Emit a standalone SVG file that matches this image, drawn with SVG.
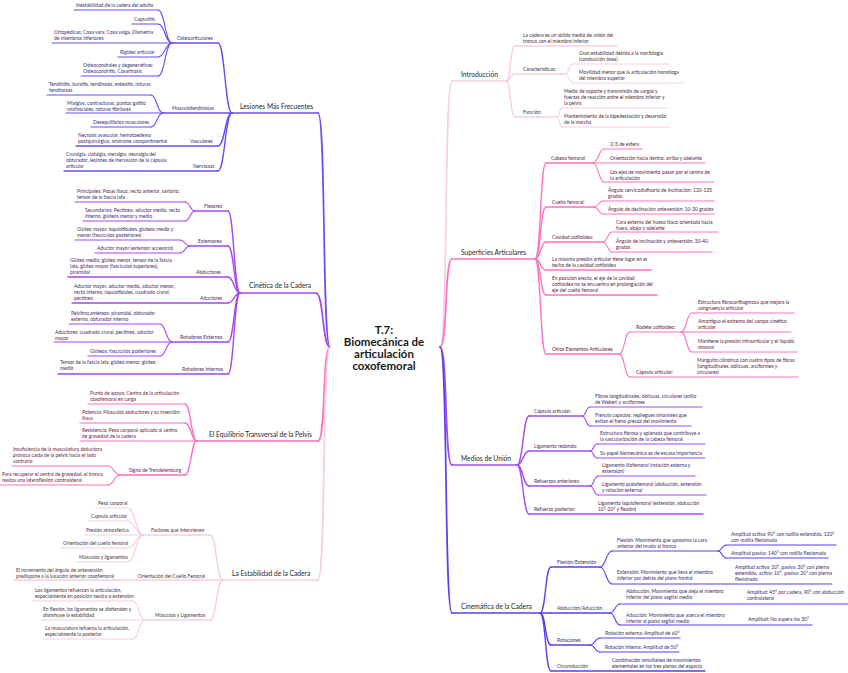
<svg xmlns="http://www.w3.org/2000/svg" width="848" height="673" viewBox="0 0 848 673">
<style>
text{font-family:Lato,"Open Sans","Liberation Sans",sans-serif}
.t{font-size:4.95px}
.m{font-size:6.7px;fill:#1f1f2a}
.ttl{font-size:11.5px;font-weight:bold;fill:#1a1a1a;text-anchor:middle}
path,line{fill:none;stroke-linecap:round}
.w3{stroke-width:1.7}.w2{stroke-width:1.4}.w1{stroke-width:1.1}
.kL{stroke:#6a4cf2}.kC{stroke:#a646ee}.kE{stroke:#ff6fbf}.kS{stroke:#f5cde4}
.kI{stroke:#f5d0e4}.kP{stroke:#ff72c0}.kM{stroke:#a24cf0}.kK{stroke:#5c40ee}
.fL{fill:#3b2f70}.fC{fill:#4a2a66}.fE{fill:#6e2348}.fS{fill:#4b3440}
.fI{fill:#4b3040}.fP{fill:#5a2346}.fM{fill:#472a66}.fK{fill:#3a2e6e}
</style>
<rect width="848" height="673" fill="#ffffff"/>
<g id="connectors">
<path class="kL w3" d="M318 113 C326 113 322 347 330 347"/>
<path class="kC w3" d="M316 293 C324 293 322 347 330 347"/>
<path class="kE w3" d="M318 441 C326 441 322 347 330 347"/>
<path class="kS w3" d="M318 580 C326 580 322 347 330 347"/>
<path class="kI w3" d="M440 347 C448 347 444 81 452 81"/>
<path class="kP w3" d="M440 347 C448 347 444 259 452 259"/>
<path class="kM w3" d="M440 347 C448 347 444 465 452 465"/>
<path class="kK w3" d="M440 347 C448 347 444 613 452 613"/>
<path class="kL w2" d="M218 43 C225 43 225 113 232 113"/>
<path class="kL w2" d="M218 146 C225 146 225 113 232 113"/>
<path class="kL w2" d="M218 171 C225 171 225 113 232 113"/>
<path class="kL w1" d="M158 10 C165 10 165 43 172 43"/>
<path class="kL w1" d="M158 24 C165 24 165 43 172 43"/>
<path class="kL w1" d="M158 57 C165 57 165 43 172 43"/>
<path class="kL w1" d="M158 76 C165 76 165 43 172 43"/>
<path class="kL w1" d="M151 95 C157 95 157 113 163 113"/>
<path class="kL w1" d="M151 127 C157 127 157 113 163 113"/>
<path class="kC w2" d="M228 211 C234 211 234 293 240 293"/>
<path class="kC w2" d="M228 246 C234 246 234 293 240 293"/>
<path class="kC w2" d="M228 277 C234 277 234 293 240 293"/>
<path class="kC w2" d="M228 303 C234 303 234 293 240 293"/>
<path class="kC w2" d="M228 342 C234 342 234 293 240 293"/>
<path class="kC w2" d="M228 374 C234 374 234 293 240 293"/>
<path class="kC w1" d="M185 202 C190 202 190 211 195 211"/>
<path class="kC w1" d="M185 221 C190 221 190 211 195 211"/>
<path class="kC w1" d="M180 240 C185 240 185 246 190 246"/>
<path class="kC w1" d="M180 253 C185 253 185 246 190 246"/>
<path class="kC w1" d="M160 324 C166 324 166 342 172 342"/>
<path class="kC w1" d="M160 356 C166 356 166 342 172 342"/>
<path class="kE w2" d="M185 404 C191 404 191 441 197 441"/>
<path class="kE w2" d="M185 423 C191 423 191 441 197 441"/>
<path class="kE w2" d="M185 475 C191 475 191 441 197 441"/>
<path class="kE w1" d="M108 466 C114 466 114 475 120 475"/>
<path class="kE w1" d="M108 485 C114 485 114 475 120 475"/>
<path class="kS w2" d="M210 535 C217 535 216 580 223 580"/>
<path class="kS w2" d="M210 620 C217 620 216 580 223 580"/>
<path class="kS w1" d="M128 508 C135 508 136 535 143 535"/>
<path class="kS w1" d="M128 521 C135 521 136 535 143 535"/>
<path class="kS w1" d="M128 548 C135 548 136 535 143 535"/>
<path class="kS w1" d="M128 562 C135 562 136 535 143 535"/>
<path class="kS w1" d="M133 601 C139 601 139 620 145 620"/>
<path class="kS w1" d="M133 639 C139 639 139 620 145 620"/>
<path class="kI w2" d="M506 81 C511 81 510 46 515 46"/>
<path class="kI w2" d="M506 81 C511 81 510 74 515 74"/>
<path class="kI w2" d="M506 81 C511 81 510 117 515 117"/>
<path class="kI w1" d="M565 74 C569 74 569 64 573 64"/>
<path class="kI w1" d="M565 74 C569 74 569 83 573 83"/>
<path class="kI w1" d="M557 117 C560 117 559 108 562 108"/>
<path class="kI w1" d="M557 117 C560 117 559 127 562 127"/>
<path class="kP w2" d="M535 259 C541 259 540 163 546 163"/>
<path class="kP w2" d="M535 259 C541 259 540 207 546 207"/>
<path class="kP w2" d="M535 259 C541 259 540 242 546 242"/>
<path class="kP w2" d="M535 259 C541 259 540 270 546 270"/>
<path class="kP w2" d="M535 259 C541 259 540 295 546 295"/>
<path class="kP w2" d="M535 259 C541 259 540 354 546 354"/>
<path class="kP w1" d="M593 163 C598 163 599 149 604 149"/>
<path class="kP w1" d="M593 163 C598 163 599 182 604 182"/>
<path class="kP w1" d="M594 207 C598 207 599 201 603 201"/>
<path class="kP w1" d="M594 207 C598 207 599 214 603 214"/>
<path class="kP w1" d="M603 242 C607 242 608 232 612 232"/>
<path class="kP w1" d="M603 242 C607 242 608 252 612 252"/>
<path class="kP w1" d="M619 354 C625 354 624 332 630 332"/>
<path class="kP w1" d="M619 354 C625 354 624 377 630 377"/>
<path class="kP w1" d="M681 332 C687 332 686 313 692 313"/>
<path class="kP w1" d="M681 332 C687 332 686 352 692 352"/>
<path class="kM w2" d="M517 465 C523 465 523 416 529 416"/>
<path class="kM w2" d="M517 465 C523 465 523 451 529 451"/>
<path class="kM w2" d="M517 465 C523 465 523 486 529 486"/>
<path class="kM w2" d="M517 465 C523 465 523 514 529 514"/>
<path class="kM w1" d="M582 416 C586 416 586 407 590 407"/>
<path class="kM w1" d="M582 416 C586 416 586 426 590 426"/>
<path class="kM w1" d="M590 451 C594 451 593 444 597 444"/>
<path class="kM w1" d="M590 451 C594 451 593 458 597 458"/>
<path class="kM w1" d="M590 486 C594 486 594 476 598 476"/>
<path class="kM w1" d="M590 486 C594 486 594 495 598 495"/>
<path class="kK w2" d="M540 613 C546 613 545 567 551 567"/>
<path class="kK w2" d="M540 613 L551 613"/>
<path class="kK w2" d="M540 613 C546 613 545 645 551 645"/>
<path class="kK w2" d="M540 613 C546 613 545 671 551 671"/>
<path class="kK w1" d="M600 567 C606 567 606 551 612 551"/>
<path class="kK w1" d="M600 567 C606 567 606 584 612 584"/>
<path class="kK w1" d="M718 551 C722 551 722 545 726 545"/>
<path class="kK w1" d="M718 551 C722 551 722 558 726 558"/>
<path class="kK w1" d="M610 613 C615 613 615 604 620 604"/>
<path class="kK w1" d="M610 613 C615 613 615 625 620 625"/>
<path class="kK w1" d="M590 645 C595 645 595 638 600 638"/>
<path class="kK w1" d="M590 645 C595 645 595 652 600 652"/>
</g>

<g id="title"><text class="ttl" x="384" y="334">T.7:</text><text class="ttl" x="384" y="346">Biomecánica de</text><text class="ttl" x="384" y="358">articulación</text><text class="ttl" x="384" y="370">coxofemoral</text></g>

<!-- Lesiones -->
<g id="lesiones"><line class="kL w3" x1="232" y1="113" x2="318" y2="113"/><text class="m" x="240" y="108.6">Lesiones Más Frecuentes</text></g>
<g id="osteoarticulares"><line class="kL w2" x1="172" y1="43" x2="218" y2="43"/><text class="t fL" x="177" y="39.6">Osteoarticulares</text></g>
<g id="inestabilidad"><line class="kL w1" x1="74" y1="10" x2="158" y2="10"/><text class="t fL" x="76" y="6.6">Inestabilidad de la cadera del adulto</text></g>
<g id="capsulitis"><line class="kL w1" x1="132" y1="24" x2="158" y2="24"/><text class="t fL" x="134" y="20.6">Capsulitis</text></g>
<g id="ortopedicas"><line class="kL w1" x1="52" y1="43" x2="172" y2="43"/><text class="t fL" x="54" y="33.6">Ortopédicas: Coxa vara, Coxa valga, Dismetría<tspan x="54" dy="6">de miembros inferiores</tspan></text></g>
<g id="rigidez"><line class="kL w1" x1="118" y1="57" x2="158" y2="57"/><text class="t fL" x="120" y="53.6">Rigidez articular</text></g>
<g id="osteocondrales"><line class="kL w1" x1="81" y1="76" x2="158" y2="76"/><text class="t fL" x="83" y="66.6">Osteocondrales y degenerativas:<tspan x="83" dy="6">Osteocondritis, Coxartrosis</tspan></text></g>
<g id="musculotendinosas"><line class="kL w2" x1="163" y1="113" x2="232" y2="113"/><text class="t fL" x="172" y="109.6">Musculotendinosas</text></g>
<g id="tendinitis"><line class="kL w1" x1="47" y1="95" x2="151" y2="95"/><text class="t fL" x="49" y="85.6">Tendinitis, bursitis, tendinosis, entesitis, roturas<tspan x="49" dy="6">tendinosas</tspan></text></g>
<g id="mialgias"><line class="kL w1" x1="66" y1="113" x2="163" y2="113"/><text class="t fL" x="67" y="104.6">Mialgias, contracturas, puntos gatillo<tspan x="67" dy="6">miofasciales, roturas fibrilares</tspan></text></g>
<g id="desequilibrios"><line class="kL w1" x1="91" y1="127" x2="151" y2="127"/><text class="t fL" x="93" y="123.6">Desequilibrios musculares</text></g>
<g id="vasculares"><line class="kL w2" x1="76" y1="146" x2="218" y2="146"/><text class="t fL" x="190" y="142.6">Vasculares</text><text class="t fL" x="78" y="136.6">Necrosis avascular, hematoedema<tspan x="78" dy="6">postquirúrgico, síndrome compartimental</tspan></text></g>
<g id="nerviosas"><line class="kL w2" x1="64" y1="171" x2="218" y2="171"/><text class="t fL" x="193" y="167.6">Nerviosas</text><text class="t fL" x="66" y="155.6">Cruralgia, ciatalgia, meralgia, neuralgia del<tspan x="66" dy="6">obturador, lesiones de inervación de la cápsula</tspan><tspan x="66" dy="6">articular</tspan></text></g>

<!-- Cinetica -->
<g id="cinetica"><line class="kC w3" x1="240" y1="293" x2="316" y2="293"/><text class="m" x="249" y="288">Cinética de la Cadera</text></g>
<g id="flexores"><line class="kC w2" x1="195" y1="211" x2="228" y2="211"/><text class="t fC" x="204" y="207.6">Flexores</text></g>
<g id="principales"><line class="kC w1" x1="75" y1="202" x2="185" y2="202"/><text class="t fC" x="77" y="192.6">Principales: Psoas ilíaco, recto anterior, sartorio,<tspan x="77" dy="6">tensor de la fascia lata</tspan></text></g>
<g id="secundarios"><line class="kC w1" x1="83" y1="221" x2="185" y2="221"/><text class="t fC" x="85" y="211.6">Secundarios: Pectíneo, aductor medio, recto<tspan x="85" dy="6">interno, glúteos menor y medio</tspan></text></g>
<g id="extensores"><line class="kC w2" x1="190" y1="246" x2="228" y2="246"/><text class="t fC" x="198" y="242.6">Extensores</text></g>
<g id="gluteo-mayor"><line class="kC w1" x1="75" y1="240" x2="180" y2="240"/><text class="t fC" x="77" y="230.6">Glúteo mayor, isquiotibiales, glúteos medio y<tspan x="77" dy="6">menor (fascículos posteriores)</tspan></text></g>
<g id="aductor-mayor"><line class="kC w1" x1="95" y1="253" x2="180" y2="253"/><text class="t fC" x="97" y="249.6">Aductor mayor (extensor accesorio)</text></g>
<g id="abductores"><line class="kC w2" x1="68" y1="277" x2="228" y2="277"/><text class="t fC" x="196" y="273.6">Abductores</text><text class="t fC" x="70" y="261.6">Glúteo medio, glúteo menor, tensor de la fascia<tspan x="70" dy="6">lata, glúteo mayor (fascículos superiores),</tspan><tspan x="70" dy="6">piramidal</tspan></text></g>
<g id="aductores"><line class="kC w2" x1="72" y1="303" x2="228" y2="303"/><text class="t fC" x="200" y="299.6">Aductores</text><text class="t fC" x="74" y="287.6">Aductor mayor, aductor medio, aductor menor,<tspan x="74" dy="6">recto interno, isquiotibiales, cuadrado crural,</tspan><tspan x="74" dy="6">pectíneo</tspan></text></g>
<g id="rot-externos"><line class="kC w2" x1="172" y1="342" x2="228" y2="342"/><text class="t fC" x="180" y="338.6">Rotadores Externos</text></g>
<g id="pelvitrocantereos"><line class="kC w1" x1="69" y1="324" x2="160" y2="324"/><text class="t fC" x="71" y="314.6">Pelvitrocantéreos: piramidal, obturador<tspan x="71" dy="6">externo, obturador interno</tspan></text></g>
<g id="aductores-re"><line class="kC w1" x1="54" y1="342" x2="172" y2="342"/><text class="t fC" x="55" y="333.6">Aductores: cuadrado crural, pectíneo, aductor<tspan x="55" dy="6">mayor</tspan></text></g>
<g id="gluteos-re"><line class="kC w1" x1="88" y1="356" x2="160" y2="356"/><text class="t fC" x="90" y="352.6">Glúteos: fascículos posteriores</text></g>
<g id="rot-internos"><line class="kC w2" x1="58" y1="374" x2="228" y2="374"/><text class="t fC" x="182" y="370.6">Rotadores Internos</text><text class="t fC" x="60" y="363.6">Tensor de la fascia lata, glúteo menor, glúteo<tspan x="60" dy="6">medio</tspan></text></g>

<!-- Equilibrio -->
<g id="equilibrio"><line class="kE w3" x1="197" y1="441" x2="318" y2="441"/><text class="m" x="209" y="436.8">El Equilibrio Transversal de la Pelvis</text></g>
<g id="punto-apoyo"><line class="kE w1" x1="88" y1="404" x2="185" y2="404"/><text class="t fE" x="90" y="394.6">Punto de apoyo: Centro de la articulación<tspan x="90" dy="6">coxofemoral en carga</tspan></text></g>
<g id="potencia"><line class="kE w1" x1="80" y1="423" x2="185" y2="423"/><text class="t fE" x="82" y="413.6">Potencia: Músculos abductores y su inserción<tspan x="82" dy="6">ilíaca</tspan></text></g>
<g id="resistencia"><line class="kE w1" x1="80" y1="441" x2="197" y2="441"/><text class="t fE" x="82" y="431.6">Resistencia: Peso corporal aplicado al centro<tspan x="82" dy="6">de gravedad de la cadera</tspan></text></g>
<g id="trendelemburg"><line class="kE w2" x1="120" y1="475" x2="185" y2="475"/><text class="t fE" x="129" y="471.6">Signo de Trendelemburg</text></g>
<g id="insuficiencia"><line class="kE w1" x1="12" y1="466" x2="108" y2="466"/><text class="t fE" x="13" y="450.6">Insuficiencia de la musculatura abductora<tspan x="13" dy="6">provoca caída de la pelvis hacia el lado</tspan><tspan x="13" dy="6">contrario</tspan></text></g>
<g id="recuperar"><line class="kE w1" x1="0" y1="485" x2="108" y2="485"/><text class="t fE" x="2" y="475.6">Para recuperar el centro de gravedad, el tronco<tspan x="2" dy="6">realiza una lateroflexión contralateral</tspan></text></g>

<!-- Estabilidad -->
<g id="estabilidad"><line class="kS w3" x1="223" y1="580" x2="318" y2="580"/><text class="m" x="232" y="575.8">La Estabilidad de la Cadera</text></g>
<g id="factores"><line class="kS w2" x1="143" y1="535" x2="210" y2="535"/><text class="t fS" x="151" y="531.6">Factores que intervienen</text></g>
<g id="peso"><line class="kS w1" x1="96" y1="508" x2="128" y2="508"/><text class="t fS" x="98" y="504.6">Peso corporal</text></g>
<g id="capsula-f"><line class="kS w1" x1="89" y1="521" x2="128" y2="521"/><text class="t fS" x="91" y="517.6">Capsula articular</text></g>
<g id="presion"><line class="kS w1" x1="84" y1="535" x2="143" y2="535"/><text class="t fS" x="86" y="531.6">Presión atmosférica</text></g>
<g id="orientacion-f"><line class="kS w1" x1="61" y1="548" x2="128" y2="548"/><text class="t fS" x="63" y="544.6">Orientación del cuello femoral</text></g>
<g id="musculos-f"><line class="kS w1" x1="77" y1="562" x2="128" y2="562"/><text class="t fS" x="79" y="558.6">Músculos y ligamentos</text></g>
<g id="orientacion-cf"><line class="kS w2" x1="14" y1="580" x2="223" y2="580"/><text class="t fS" x="138" y="577.6">Orientación del Cuello Femoral</text><text class="t fS" x="16" y="571.6">El incremento del ángulo de anteversión<tspan x="16" dy="6">predispone a la luxación anterior coxofemoral</tspan></text></g>
<g id="musculos-lig"><line class="kS w2" x1="145" y1="620" x2="210" y2="620"/><text class="t fS" x="155" y="616.6">Músculos y Ligamentos</text></g>
<g id="ligamentos-ref"><line class="kS w1" x1="33" y1="601" x2="133" y2="601"/><text class="t fS" x="35" y="591.6">Los ligamentos refuerzan la articulación,<tspan x="35" dy="6">especialmente en posición neutra o extensión</tspan></text></g>
<g id="en-flexion"><line class="kS w1" x1="41" y1="620" x2="145" y2="620"/><text class="t fS" x="43" y="610.6">En flexión, los ligamentos se distienden y<tspan x="43" dy="6">disminuye la estabilidad</tspan></text></g>
<g id="musculatura-ref"><line class="kS w1" x1="43" y1="639" x2="133" y2="639"/><text class="t fS" x="45" y="629.6">La musculatura refuerza la articulación,<tspan x="45" dy="6">especialmente la posterior</tspan></text></g>

<!-- Introduccion -->
<g id="introduccion"><line class="kI w3" x1="452" y1="81" x2="506" y2="81"/><text class="m" x="461" y="76.8">Introducción</text></g>
<g id="la-cadera"><line class="kI w2" x1="515" y1="46" x2="617" y2="46"/><text class="t fI" x="523" y="36.6">La cadera es un sólido medio de unión del<tspan x="523" dy="6">tronco con el miembro inferior</tspan></text></g>
<g id="caracteristicas"><line class="kI w2" x1="515" y1="74" x2="565" y2="74"/><text class="t fI" x="523" y="70.6">Características:</text></g>
<g id="gran-estabilidad"><line class="kI w1" x1="573" y1="64" x2="669" y2="64"/><text class="t fI" x="579" y="54.6">Gran estabilidad debida a la morfología<tspan x="579" dy="6">(conducción ósea)</tspan></text></g>
<g id="movilidad"><line class="kI w1" x1="573" y1="83" x2="684" y2="83"/><text class="t fI" x="579" y="73.6">Movilidad menor que la articulación homóloga<tspan x="579" dy="6">del miembro superior</tspan></text></g>
<g id="funcion"><line class="kI w2" x1="515" y1="117" x2="557" y2="117"/><text class="t fI" x="523" y="113.6">Función:</text></g>
<g id="medio-soporte"><line class="kI w1" x1="562" y1="108" x2="668" y2="108"/><text class="t fI" x="564" y="92.6">Medio de soporte y transmisión de cargas y<tspan x="564" dy="6">fuerzas de reacción entre el miembro inferior y</tspan><tspan x="564" dy="6">la pelvis</tspan></text></g>
<g id="mantenimiento"><line class="kI w1" x1="562" y1="127" x2="670" y2="127"/><text class="t fI" x="564" y="117.6">Mantenimiento de la bipedestación y desarrollo<tspan x="564" dy="6">de la marcha</tspan></text></g>

<!-- Superficies -->
<g id="superficies"><line class="kP w3" x1="452" y1="259" x2="535" y2="259"/><text class="m" x="461" y="254.8">Superficies Articulares</text></g>
<g id="cabeza"><line class="kP w2" x1="546" y1="163" x2="593" y2="163"/><text class="t fP" x="551" y="159.6">Cabeza femoral:</text></g>
<g id="esfera"><line class="kP w1" x1="604" y1="149" x2="642" y2="149"/><text class="t fP" x="610" y="145.6">2/3 de esfera</text></g>
<g id="orientacion-cab"><line class="kP w1" x1="593" y1="163" x2="705" y2="163"/><text class="t fP" x="610" y="159.6">Orientación hacia dentro, arriba y adelante</text></g>
<g id="ejes"><line class="kP w1" x1="604" y1="182" x2="714" y2="182"/><text class="t fP" x="610" y="173.6">Los ejes de movimiento pasan por el centro de<tspan x="610" dy="6">la articulación</tspan></text></g>
<g id="cuello"><line class="kP w2" x1="546" y1="207" x2="594" y2="207"/><text class="t fP" x="552" y="203.6">Cuello femoral:</text></g>
<g id="cervicodiafisario"><line class="kP w1" x1="603" y1="201" x2="714" y2="201"/><text class="t fP" x="608" y="191.6">Ángulo cervicodiafisario de inclinación: 120-135<tspan x="608" dy="6">grados</tspan></text></g>
<g id="declinacion"><line class="kP w1" x1="603" y1="214" x2="714" y2="214"/><text class="t fP" x="608" y="210.6">Ángulo de declinación anteversión: 10-30 grados</text></g>
<g id="cavidad"><line class="kP w2" x1="546" y1="242" x2="603" y2="242"/><text class="t fP" x="552" y="238.6">Cavidad cotiloidea:</text></g>
<g id="cara-externa"><line class="kP w1" x1="612" y1="232" x2="718" y2="232"/><text class="t fP" x="616" y="223.6">Cara externa del hueso ilíaco orientada hacia<tspan x="616" dy="6">fuera, abajo y adelante</tspan></text></g>
<g id="inclinacion"><line class="kP w1" x1="612" y1="252" x2="712" y2="252"/><text class="t fP" x="616" y="242.6">Ángulo de inclinación y anteversión: 30-40<tspan x="616" dy="6">grados</tspan></text></g>
<g id="maxima"><line class="kP w2" x1="546" y1="270" x2="651" y2="270"/><text class="t fP" x="552" y="260.6">La máxima presión articular tiene lugar en el<tspan x="552" dy="6">techo de la cavidad cotiloidea</tspan></text></g>
<g id="erecta"><line class="kP w2" x1="546" y1="295" x2="657" y2="295"/><text class="t fP" x="552" y="279.6">En posición erecta, el eje de la cavidad<tspan x="552" dy="6">cotiloidea no se encuentra en prolongación del</tspan><tspan x="552" dy="6">eje del cuello femoral</tspan></text></g>
<g id="otros"><line class="kP w2" x1="546" y1="354" x2="619" y2="354"/><text class="t fP" x="552" y="350.6">Otros Elementos Articulares</text></g>
<g id="rodete"><line class="kP w1" x1="630" y1="332" x2="681" y2="332"/><text class="t fP" x="636" y="328.6">Rodete cotiloideo:</text></g>
<g id="fibrocartilaginosa"><line class="kP w1" x1="692" y1="313" x2="794" y2="313"/><text class="t fP" x="698" y="303.6">Estructura fibrocartilaginosa que mejora la<tspan x="698" dy="6">congruencia articular</tspan></text></g>
<g id="amortigua"><line class="kP w1" x1="681" y1="332" x2="791" y2="332"/><text class="t fP" x="698" y="322.6">Amortigua el extremo del campo cinético<tspan x="698" dy="6">articular</tspan></text></g>
<g id="mantiene"><line class="kP w1" x1="692" y1="352" x2="797" y2="352"/><text class="t fP" x="698" y="342.6">Mantiene la presión intraarticular y el líquido<tspan x="698" dy="6">sinovial</tspan></text></g>
<g id="capsula-sup"><line class="kP w1" x1="630" y1="377" x2="798" y2="377"/><text class="t fP" x="636" y="373.6">Cápsula articular:</text><text class="t fP" x="697" y="361.6">Manguito cilíndrico con cuatro tipos de fibras<tspan x="697" dy="6">(longitudinales, oblicuas, arciformes y</tspan><tspan x="697" dy="6">circulares)</tspan></text></g>

<!-- Medios -->
<g id="medios"><line class="kM w3" x1="452" y1="465" x2="517" y2="465"/><text class="m" x="461" y="460.8">Medios de Unión</text></g>
<g id="capsula-m"><line class="kM w2" x1="529" y1="416" x2="582" y2="416"/><text class="t fM" x="534" y="412.6">Cápsula articular:</text></g>
<g id="fibras"><line class="kM w1" x1="590" y1="407" x2="702" y2="407"/><text class="t fM" x="595" y="397.6">Fibras longitudinales, oblicuas, circulares (anillo<tspan x="595" dy="6">de Weber) y arciformes</tspan></text></g>
<g id="frenula"><line class="kM w1" x1="590" y1="426" x2="691" y2="426"/><text class="t fM" x="595" y="416.6">Frenula capsulas: repliegues sinoviales que<tspan x="595" dy="6">evitan el freno precoz del movimiento</tspan></text></g>
<g id="lig-redondo"><line class="kM w2" x1="529" y1="451" x2="590" y2="451"/><text class="t fM" x="534" y="447.6">Ligamento redondo:</text></g>
<g id="estructura-fibrosa"><line class="kM w1" x1="597" y1="444" x2="705" y2="444"/><text class="t fM" x="600" y="434.6">Estructura fibrosa y aplanada que contribuye a<tspan x="600" dy="6">la vascularización de la cabeza femoral</tspan></text></g>
<g id="papel"><line class="kM w1" x1="597" y1="458" x2="705" y2="458"/><text class="t fM" x="600" y="454.6">Su papel biomecánico es de escasa importancia</text></g>
<g id="ref-anteriores"><line class="kM w2" x1="529" y1="486" x2="590" y2="486"/><text class="t fM" x="534" y="482.6">Refuerzos anteriores:</text></g>
<g id="iliofemoral"><line class="kM w1" x1="598" y1="476" x2="695" y2="476"/><text class="t fM" x="602" y="466.6">Ligamento iliofemoral (rotación externa y<tspan x="602" dy="6">extensión)</tspan></text></g>
<g id="pubofemoral"><line class="kM w1" x1="598" y1="495" x2="706" y2="495"/><text class="t fM" x="602" y="485.6">Ligamento pubofemoral (abducción, extensión<tspan x="602" dy="6">y rotación externa)</tspan></text></g>
<g id="ref-posterior"><line class="kM w2" x1="529" y1="514" x2="703" y2="514"/><text class="t fM" x="534" y="510.6">Refuerzo posterior:</text><text class="t fM" x="598" y="504.6">Ligamento isquiofemoral (extensión, abducción<tspan x="598" dy="6">10°-20° y flexión)</tspan></text></g>

<!-- Cinematica -->
<g id="cinematica"><line class="kK w3" x1="452" y1="613" x2="540" y2="613"/><text class="m" x="461" y="608.8">Cinemática de la Cadera</text></g>
<g id="flex-ext"><line class="kK w2" x1="551" y1="567" x2="600" y2="567"/><text class="t fK" x="557" y="563.6">Flexión/Extensión</text></g>
<g id="flexion"><line class="kK w1" x1="612" y1="551" x2="718" y2="551"/><text class="t fK" x="617" y="541.6">Flexión: Movimiento que aproxima la cara<tspan x="617" dy="6">anterior del muslo al tronco</tspan></text></g>
<g id="amp-activa"><line class="kK w1" x1="726" y1="545" x2="836" y2="545"/><text class="t fK" x="731" y="535.6">Amplitud activa: 90° con rodilla extendida, 120°<tspan x="731" dy="6">con rodilla flexionada</tspan></text></g>
<g id="amp-pasiva"><line class="kK w1" x1="726" y1="558" x2="828" y2="558"/><text class="t fK" x="731" y="554.6">Amplitud pasiva: 140° con rodilla flexionada</text></g>
<g id="extension"><line class="kK w1" x1="612" y1="584" x2="832" y2="584"/><text class="t fK" x="617" y="573.6">Extensión: Movimiento que lleva el miembro<tspan x="617" dy="6">inferior por detrás del plano frontal</tspan></text><text class="t fK" x="735" y="568.6">Amplitud activa: 20°, pasiva: 30° con pierna<tspan x="735" dy="6">extendida, activa: 10°, pasiva: 20° con pierna</tspan><tspan x="735" dy="6">flexionada</tspan></text></g>
<g id="abd-add"><line class="kK w2" x1="551" y1="613" x2="610" y2="613"/><text class="t fK" x="557" y="609.6">Abducción/Aducción</text></g>
<g id="abduccion"><line class="kK w1" x1="620" y1="604" x2="848" y2="604"/><text class="t fK" x="626" y="592.6">Abducción: Movimiento que aleja el miembro<tspan x="626" dy="6">inferior del plano sagital medio</tspan></text><text class="t fK" x="747" y="593.6">Amplitud: 45° por cadera, 90° con abducción<tspan x="747" dy="6">contralateral</tspan></text></g>
<g id="aduccion"><line class="kK w1" x1="620" y1="625" x2="812" y2="625"/><text class="t fK" x="626" y="616.6">Aducción: Movimiento que acerca el miembro<tspan x="626" dy="6">inferior al plano sagital medio</tspan></text><text class="t fK" x="748" y="620.6">Amplitud: No supera los 30°</text></g>
<g id="rotaciones"><line class="kK w2" x1="551" y1="645" x2="590" y2="645"/><text class="t fK" x="557" y="641.6">Rotaciones</text></g>
<g id="rot-ext"><line class="kK w1" x1="600" y1="638" x2="680" y2="638"/><text class="t fK" x="605" y="634.6">Rotación externa: Amplitud de 60°</text></g>
<g id="rot-int"><line class="kK w1" x1="600" y1="652" x2="679" y2="652"/><text class="t fK" x="605" y="648.6">Rotación interna: Amplitud de 50°</text></g>
<g id="circunduccion"><line class="kK w2" x1="551" y1="671" x2="705" y2="671"/><text class="t fK" x="557" y="667.6">Circunducción</text><text class="t fK" x="612" y="661.6">Combinación simultánea de movimientos<tspan x="612" dy="6">elementales en los tres planos del espacio</tspan></text></g>
</svg>
